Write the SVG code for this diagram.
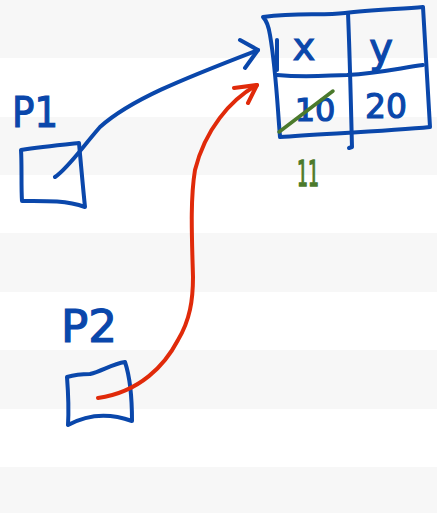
<svg xmlns="http://www.w3.org/2000/svg" width="437" height="513" viewBox="0 0 437 513">
<style>
.bg{fill:#f7f7f7}
.b{fill:none;stroke:#0a47ab;stroke-width:4;stroke-linecap:round;stroke-linejoin:round}
.r{fill:none;stroke:#e02a0a;stroke-width:4;stroke-linecap:round;stroke-linejoin:round}
.g{fill:none;stroke:#4b7a2c;stroke-width:3.5;stroke-linecap:round}
.tb{fill:#0a47ab;stroke:#0a47ab;stroke-width:1.2;font-family:"DejaVu Sans",sans-serif}
.tg{fill:#4b7a2c;stroke:#4b7a2c;stroke-width:1.5;font-family:"DejaVu Sans",sans-serif}
</style>
<rect width="437" height="513" fill="#ffffff"/>
<rect class="bg" x="0" y="0" width="437" height="58"/>
<rect class="bg" x="0" y="117" width="437" height="58"/>
<rect class="bg" x="0" y="233" width="437" height="59"/>
<rect class="bg" x="0" y="350" width="437" height="59"/>
<rect class="bg" x="0" y="467" width="437" height="46"/>

<g id="table">
<path class="b" d="M263,17 C300,12 320,16 345,13 C370,10 400,9 423,7 L430,127 C390,131 320,134 280,137 C277,100 276,70 270,35 Q268,22 263,17 Z"/>
<path class="b" d="M277,40 L277,70"/>
<path class="b" d="M348,13 C350,60 351,110 352,147 L349,148"/>
<path class="b" d="M277,75 C310,78 330,75 347,75 C380,73 400,68 423,65"/>
<text class="tb" x="304" y="60" font-size="38" text-anchor="middle">x</text>
<text class="tb" x="381" y="62" font-size="40" text-anchor="middle">y</text>
<text class="tb" x="315" y="121" font-size="32" text-anchor="middle">10</text>
<text class="tb" x="386" y="118" font-size="33" text-anchor="middle">20</text>
<path class="g" d="M279,132 L333,91"/>
<text class="tg" x="308" y="186" font-size="36" text-anchor="middle" textLength="22" lengthAdjust="spacingAndGlyphs">11</text>
</g>

<g id="p1">
<text class="tb" x="12" y="127" font-size="42" textLength="46" lengthAdjust="spacingAndGlyphs">P1</text>
<path class="b" d="M21,150 C40,147 60,145 79,143 C81,165 83,188 85,207 C65,200 42,201 22,201 C21,185 22,165 21,150 Z"/>
</g>

<g id="p2">
<text class="tb" x="61" y="342" font-size="44" textLength="56" lengthAdjust="spacingAndGlyphs">P2</text>
<path class="b" d="M67,377 C77,374 85,374 90,374 C102,371 112,364 125,362 C131,380 132,400 132,421 C110,413 88,414 68,425 C69,408 68,390 67,377 Z"/>
</g>

<g id="connectors">
<path class="b" d="M55,177 C68,168 80,150 100,127 C130,100 180,80 258,50"/>
<path class="b" d="M240,40 L258,50 L245,68"/>
<path class="r" d="M98,398 C140,392 165,365 178,340 C190,320 193,300 193,277 C192,240 190,200 195,170 C205,130 230,100 257,85"/>
<path class="r" d="M234,88 L257,85 L248,103"/>
</g>
</svg>
